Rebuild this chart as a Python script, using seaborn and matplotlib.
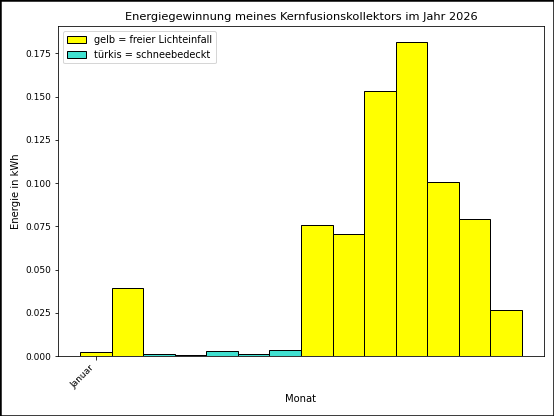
import numpy as np
import pandas as pd
import matplotlib
matplotlib.use("Agg")
import matplotlib.pyplot as plt
import matplotlib.patches as mpatches
import seaborn as sns

# Daten: Energie pro Balken (kWh), Zustand je Balken
energie = [0.0025, 0.0393, 0.0013, 0.0006, 0.0027, 0.0010, 0.0035,
           0.0757, 0.0707, 0.1531, 0.1818, 0.1009, 0.0795, 0.0266]
zustand = ["gelb", "gelb", "türkis", "türkis", "türkis", "türkis", "türkis",
           "gelb", "gelb", "gelb", "gelb", "gelb", "gelb", "gelb"]
tick_labels = ["Januar"]

farben = {"gelb": "yellow", "türkis": "turquoise"}

df = pd.DataFrame({"pos": np.arange(len(energie)), "energie": energie, "zustand": zustand})

W, H = 554, 416
fig = plt.figure(figsize=(W / 72, H / 72), dpi=72)
ax = fig.add_axes([58 / W, 60 / H, 486 / W, 330 / H])
sns.barplot(data=df, x="pos", y="energie", hue="pos",
            palette=[farben[z] for z in zustand], legend=False,
            edgecolor="black", linewidth=1, width=1, saturation=1, ax=ax)

# Standard-Ränder wie bei plt.bar
ax.set_autoscalex_on(True)
ax.margins(x=0.05)
ax.autoscale_view()

ax.set_xticks([0])
ax.set_xticklabels(tick_labels, rotation=45, ha="right")
ax.tick_params(labelsize=9)
ax.set_xlabel("Monat")
ax.set_ylabel("Energie in kWh")
ax.set_title("Energiegewinnung meines Kernfusionskollektors im Jahr 2026", fontsize=11.4)

handles = [mpatches.Patch(facecolor="yellow", edgecolor="black", label="gelb = freier Lichteinfall"),
           mpatches.Patch(facecolor="turquoise", edgecolor="black", label="türkis = schneebedeckt")]
ax.legend(handles=handles, loc="upper left", fontsize=9.7)

# Rahmen um die ganze Abbildung
fig.patches.append(mpatches.Rectangle((0, 0), 1, 1, transform=fig.transFigure,
                                      fill=False, edgecolor="black", linewidth=2.5))

fig.savefig("out.png", dpi=72)
